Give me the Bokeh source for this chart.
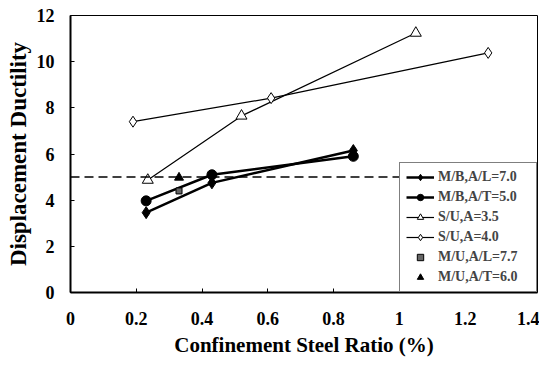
from bokeh.plotting import figure
from bokeh.models import Range1d, Legend, LegendItem, Span, FixedTicker
from bokeh.embed import file_html
from bokeh.resources import INLINE

# --- data ---
mb_al_x = [0.23, 0.43, 0.86]
mb_al_y = [3.46, 4.75, 6.15]
mb_at_x = [0.23, 0.43, 0.86]
mb_at_y = [3.97, 5.1, 5.9]
su35_x = [0.235, 0.52, 1.05]
su35_y = [4.87, 7.65, 11.24]
su40_x = [0.19, 0.61, 1.27]
su40_y = [7.4, 8.42, 10.38]
mu_al_x = [0.33]
mu_al_y = [4.4]
mu_at_x = [0.33]
mu_at_y = [4.98]
ref_level = 5.0
x_ticks = [0, 0.2, 0.4, 0.6, 0.8, 1.0, 1.2, 1.4]
x_tick_labels = {0: "0", 0.2: "0.2", 0.4: "0.4", 0.6: "0.6", 0.8: "0.8", 1.0: "1", 1.2: "1.2", 1.4: "1.4"}
y_ticks = [0, 2, 4, 6, 8, 10, 12]

FONT = "Liberation Serif"

p = figure(width=539, height=359, output_backend="svg", toolbar_location=None,
           x_range=Range1d(0, 1.42), y_range=Range1d(0, 12),
           min_border_left=70, min_border_right=2, min_border_top=15, min_border_bottom=66)
p.xgrid.visible = False
p.ygrid.visible = False
p.outline_line_color = "black"
p.outline_line_width = 1
p.background_fill_color = "white"
p.border_fill_color = "white"

for ax in (p.xaxis[0], p.yaxis[0]):
    ax.axis_line_width = 2
    ax.axis_line_color = "black"
    ax.major_tick_in = 4
    ax.major_tick_out = 0
    ax.minor_tick_line_color = None
    ax.major_tick_line_color = "black"
    ax.major_label_text_font = FONT
    ax.major_label_text_font_style = "bold"
    ax.major_label_text_font_size = "18px"
    ax.major_label_text_color = "black"
    ax.axis_label_text_font = FONT
    ax.axis_label_text_font_style = "bold"
    ax.axis_label_text_color = "black"

p.xaxis.axis_label_text_font_size = "21px"
p.yaxis.axis_label_text_font_size = "23px"
p.xaxis.ticker = FixedTicker(ticks=x_ticks)
p.xaxis.major_label_overrides = x_tick_labels
p.yaxis.ticker = FixedTicker(ticks=y_ticks)
p.xaxis.major_label_standoff = 19
p.yaxis.major_label_standoff = 16
p.xaxis.axis_label = "Confinement Steel Ratio (%)"
p.yaxis.axis_label = "Displacement Ductility"
p.xaxis.axis_label_standoff = 5
p.yaxis.axis_label_standoff = 3

p.add_layout(Span(location=ref_level, dimension="width", line_color="black",
                  line_width=1.5, line_dash="9 5"))

l1 = p.line(mb_al_x, mb_al_y, line_color="black", line_width=2.5)
m1 = p.scatter(mb_al_x, mb_al_y, marker="diamond", size=12, fill_color="black", line_color="black")
l2 = p.line(mb_at_x, mb_at_y, line_color="black", line_width=2.5)
m2 = p.scatter(mb_at_x, mb_at_y, marker="circle", size=10, fill_color="black", line_color="black")
l3 = p.line(su35_x, su35_y, line_color="black", line_width=1.2)
m3 = p.scatter(su35_x, su35_y, marker="triangle", size=11, fill_color="white", line_color="black", line_width=1)
l4 = p.line(su40_x, su40_y, line_color="black", line_width=1.2)
m4 = p.scatter(su40_x, su40_y, marker="diamond", size=11, fill_color="white", line_color="black", line_width=1)
m5 = p.scatter(mu_al_x, mu_al_y, marker="square", size=6, fill_color="#666666", line_color="black", line_width=1)
m6 = p.scatter(mu_at_x, mu_at_y, marker="triangle", size=9, fill_color="black", line_color="black")

legend = Legend(items=[
    LegendItem(label="M/B,A/L=7.0", renderers=[l1, m1]),
    LegendItem(label="M/B,A/T=5.0", renderers=[l2, m2]),
    LegendItem(label="S/U,A=3.5", renderers=[l3, m3]),
    LegendItem(label="S/U,A=4.0", renderers=[l4, m4]),
    LegendItem(label="M/U,A/L=7.7", renderers=[m5]),
    LegendItem(label="M/U,A/T=6.0", renderers=[m6]),
], location="bottom_right")
legend.label_text_font = FONT
legend.label_text_font_style = "bold"
legend.label_text_font_size = "14px"
legend.glyph_width = 28
legend.glyph_height = 16
legend.spacing = 4
legend.padding = 6
legend.margin = 0
legend.label_standoff = 4
legend.label_width = 92
legend.border_line_color = "black"
legend.border_line_width = 1
legend.background_fill_alpha = 1.0
p.add_layout(legend)

open("out.html", "w").write(file_html(p, INLINE))
